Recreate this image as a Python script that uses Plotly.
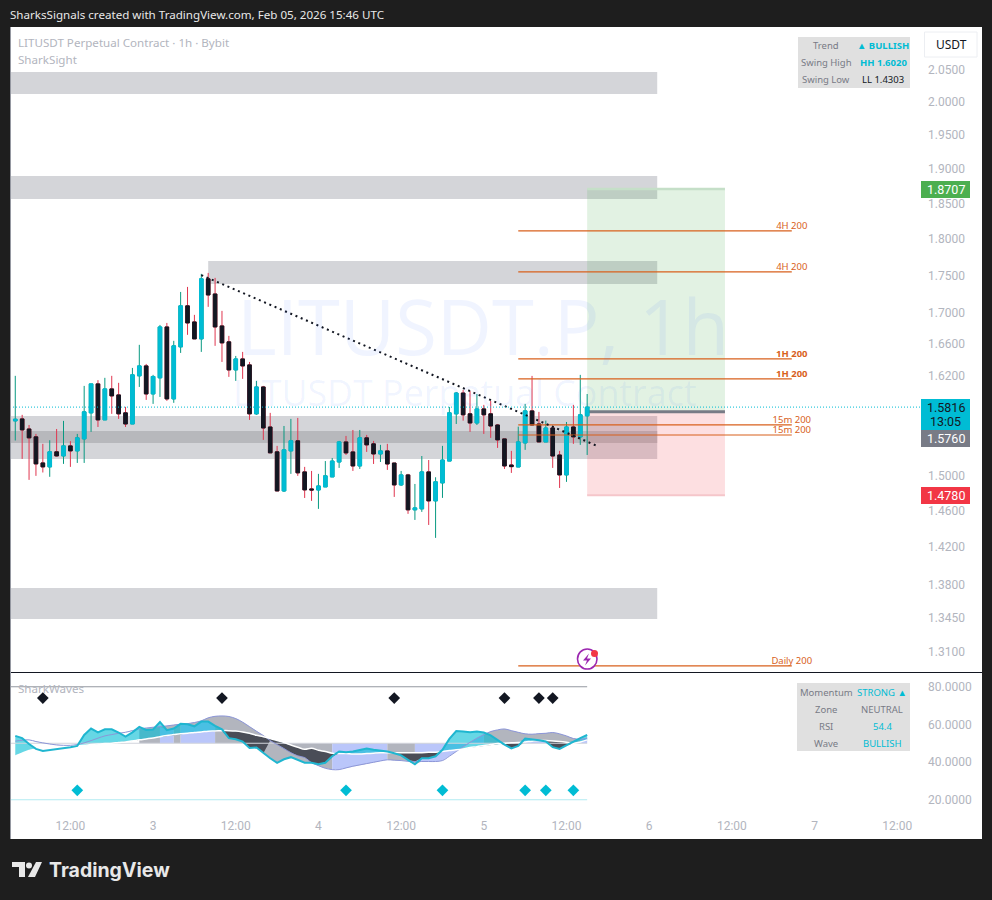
import numpy as np
import pandas as pd
import plotly.graph_objects as go

UI_FONT = "Noto Sans"
AXIS_FONT = "Roboto"

# hourly candles, first one is Feb 2 04:00
times = pd.date_range("2026-02-02 04:00", periods=84, freq="h")

open_ = [1.5649, 1.5673, 1.5552, 1.5458, 1.5151, 1.5105, 1.5281, 1.5233, 1.5351, 1.5292,
         1.5434, 1.5746, 1.6101, 1.5661, 1.6039, 1.5965, 1.5746, 1.5612, 1.6201, 1.6325,
         1.5977, 1.6176, 1.6822, 1.5916, 1.6566, 1.7097, 1.6887, 1.6668, 1.7456, 1.7254,
         1.6835, 1.6630, 1.6275, 1.6413, 1.6338, 1.5734, 1.6063, 1.5576, 1.5281, 1.4828,
         1.5292, 1.5411, 1.5047, 1.4851, 1.4839, 1.4874, 1.4989, 1.5162, 1.5398, 1.5280,
         1.5116, 1.5446, 1.5375, 1.5256, 1.5292, 1.5150, 1.4897, 1.5012, 1.4614, 1.4625,
         1.5047, 1.4715, 1.4920, 1.5173, 1.5734, 1.5988, 1.5734, 1.5624, 1.5794, 1.5734,
         1.5600, 1.5434, 1.5127, 1.5104, 1.5386, 1.5770, 1.5612, 1.5398, 1.5564, 1.5244,
         1.5012, 1.5576, 1.5458, 1.5710]
high = [1.6201, 1.5722, 1.5600, 1.5493, 1.5375, 1.5418, 1.5552, 1.5649, 1.5407, 1.5493,
        1.6076, 1.6101, 1.6147, 1.6176, 1.6201, 1.6114, 1.5819, 1.6300, 1.6592, 1.6350,
        1.6213, 1.6848, 1.6874, 1.6643, 1.7281, 1.7348, 1.6979, 1.7523, 1.7536, 1.7469,
        1.7031, 1.6707, 1.6451, 1.6502, 1.6375, 1.6138, 1.6076, 1.5746, 1.5351, 1.5588,
        1.5673, 1.5685, 1.5105, 1.5058, 1.5024, 1.5173, 1.5209, 1.5410, 1.5469, 1.5540,
        1.5540, 1.5481, 1.5410, 1.5363, 1.5375, 1.5150, 1.5058, 1.5024, 1.4908, 1.5232,
        1.5185, 1.4985, 1.5351, 1.5818, 1.6000, 1.6026, 1.6013, 1.5976, 1.5843, 1.5891,
        1.5612, 1.5434, 1.5292, 1.5580, 1.5855, 1.6200, 1.5758, 1.5652, 1.5588, 1.5292,
        1.5636, 1.5843, 1.6213, 1.5976]
low = [1.5415, 1.5198, 1.4955, 1.5001, 1.5040, 1.4990, 1.5225, 1.5140, 1.5105, 1.5151,
       1.5151, 1.5517, 1.5576, 1.5661, 1.5734, 1.5673, 1.5576, 1.5612, 1.6063, 1.5904,
       1.5855, 1.5940, 1.5892, 1.5868, 1.6489, 1.6720, 1.6668, 1.6502, 1.7084, 1.6579,
       1.6375, 1.6188, 1.6138, 1.6163, 1.5661, 1.5722, 1.5422, 1.5269, 1.4828, 1.4816,
       1.5024, 1.5001, 1.4748, 1.4715, 1.4625, 1.4874, 1.4989, 1.5093, 1.5244, 1.5058,
       1.5081, 1.5280, 1.5139, 1.5162, 1.5070, 1.4760, 1.4885, 1.4569, 1.4501, 1.4591,
       1.4445, 1.4302, 1.4749, 1.5173, 1.5612, 1.5652, 1.5517, 1.5600, 1.5493, 1.5446,
       1.5327, 1.5081, 1.5035, 1.5104, 1.5304, 1.5600, 1.5398, 1.5398, 1.5093, 1.4862,
       1.4932, 1.5375, 1.5363, 1.5244]
close = [1.5669, 1.5541, 1.5446, 1.5140, 1.5105, 1.5281, 1.5233, 1.5351, 1.5292, 1.5446,
         1.5758, 1.6101, 1.5661, 1.6039, 1.5953, 1.5734, 1.5612, 1.6213, 1.6325, 1.5977,
         1.6193, 1.6822, 1.5916, 1.6579, 1.7097, 1.6874, 1.6668, 1.7456, 1.7241, 1.6822,
         1.6617, 1.6275, 1.6413, 1.6325, 1.5734, 1.6063, 1.5564, 1.5269, 1.4828, 1.5304,
         1.5411, 1.5036, 1.4840, 1.4839, 1.4885, 1.5001, 1.5173, 1.5398, 1.5268, 1.5116,
         1.5446, 1.5363, 1.5256, 1.5292, 1.5139, 1.4897, 1.5012, 1.4614, 1.4636, 1.5047,
         1.4715, 1.4932, 1.5185, 1.5746, 1.5988, 1.5722, 1.5624, 1.5794, 1.5722, 1.5588,
         1.5422, 1.5116, 1.5108, 1.5398, 1.5770, 1.5600, 1.5398, 1.5564, 1.5232, 1.5012,
         1.5576, 1.5458, 1.5722, 1.5816]

# SharkWaves pane
wave_fast = [53.9, 52.7, 49.6, 47.0, 45.9, 46.3, 46.8, 47.3, 47.9, 48.6, 54.4, 57.8, 55.8, 57.4,
             57.4, 55.7, 53.5, 55.8, 58.7, 57.1, 57.3, 61.3, 56.9, 57.8, 60.3, 60.1, 59.0, 61.5,
             61.5, 59.2, 57.4, 52.7, 52.1, 50.9, 47.5, 47.7, 44.7, 42.0, 39.6, 41.5, 42.6, 41.0,
             39.7, 39.6, 38.8, 39.6, 43.1, 45.6, 45.2, 45.6, 46.6, 47.2, 46.6, 46.1, 45.6, 44.7,
             43.6, 41.2, 38.8, 42.0, 42.0, 43.1, 46.5, 52.3, 56.5, 56.2, 55.8, 56.2, 55.7, 54.2,
             51.6, 49.3, 47.3, 48.6, 52.5, 52.1, 51.6, 50.9, 47.9, 47.0, 48.9, 51.1, 52.7, 54.4]
wave_slow = [51.1, 51.6, 51.8, 50.9, 50.2, 49.6, 49.1, 48.9, 48.9, 49.3, 50.2, 51.4, 52.7, 53.9,
             54.6, 55.3, 55.8, 56.7, 57.6, 58.1, 58.5, 58.8, 59.2, 59.7, 60.1, 60.4, 61.0, 61.9,
             63.5, 64.3, 64.5, 64.2, 63.1, 61.2, 58.8, 56.4, 54.1, 51.4, 49.3, 47.2, 45.0, 43.3,
             42.4, 39.7, 38.1, 36.7, 36.0, 36.0, 36.9, 37.8, 38.5, 39.2, 39.9, 40.6, 41.2, 41.0,
             40.8, 40.4, 40.3, 40.3, 40.3, 40.3, 40.8, 43.1, 45.6, 48.1, 50.5, 52.7, 54.6, 56.2,
             57.1, 57.6, 56.7, 55.8, 55.0, 54.8, 55.1, 55.3, 55.7, 55.0, 53.9, 52.5, 52.1, 52.7]
wave_signal = [43.3, 44.7, 46.1, 47.0, 46.5, 46.8, 47.3, 47.7, 48.1, 48.6, 48.9, 49.3, 49.6, 49.8,
               50.0, 50.4, 50.7, 51.2, 51.8, 52.3, 52.8, 53.5, 54.1, 54.6, 55.1, 55.3, 55.7, 56.0,
               56.4, 56.5, 56.7, 56.7, 56.5, 56.0, 55.3, 54.2, 53.5, 52.5, 51.4, 50.4, 49.1, 47.9,
               46.8, 47.3, 46.3, 45.6, 44.7, 44.5, 44.5, 44.3, 44.3, 44.5, 44.7, 44.9, 45.0, 45.0,
               45.0, 45.0, 45.0, 45.0, 45.2, 45.2, 45.6, 46.1, 46.5, 47.0, 47.7, 48.2, 48.8, 49.3,
               49.8, 50.0, 50.2, 50.4, 50.7, 51.1, 51.4, 51.4, 51.2, 50.9, 50.5, 50.0, 50.7, 51.8]
state_starts = [0, 18, 21, 23, 24, 29, 46, 54, 58, 68, 73, 78, 82]
state_names = ["none", "grey", "blue", "grey", "blue", "grey", "blue", "grey", "blue",
               "grey", "blue", "grey", "blue"]
sell_idx = [4, 30, 55, 71, 76, 78]
buy_idx = [9, 48, 62, 74, 77, 81]
sell_level = 74
buy_level = 25

x_range = ["2026-02-02 03:14", "2026-02-07 16:02"]

zone_tops = [2.0467, 1.8893, 1.7698, 1.5708, 1.3761]
zone_bottoms = [2.0123, 1.8562, 1.7387, 1.5197, 1.3437]
zone_starts = [x_range[0], x_range[0], "2026-02-03 08:00", x_range[0], x_range[0]]
inner_zone = [1.5529, 1.5386]
zone_end = "2026-02-06 01:10"

level_prices = [1.8111, 1.7549, 1.6413, 1.6162, 1.5600, 1.5480, 1.2960]
level_names = ["4H 200", "4H 200", "<b>1H 200</b>", "<b>1H 200</b>", "15m 200", "15m 200", "Daily 200"]
level_start = "2026-02-05 05:00"
level_end = "2026-02-06 20:42"

trend_x = ["2026-02-03 07:00", "2026-02-05 16:27"]
trend_y = [1.7507, 1.5350]

box_start = "2026-02-05 15:00"
box_end = "2026-02-06 11:00"
target_price, entry_price, stop_price = 1.8707, 1.5760, 1.4780
last_price = 1.5816

price_ticks = [2.05, 2.0, 1.95, 1.9, 1.85, 1.8, 1.75, 1.7, 1.66, 1.62, 1.5, 1.46, 1.42, 1.38, 1.345, 1.31]
wave_ticks = [80, 60, 40, 20]
time_ticks = ["2026-02-02 12:00", "2026-02-03", "2026-02-03 12:00", "2026-02-04", "2026-02-04 12:00",
              "2026-02-05", "2026-02-05 12:00", "2026-02-06", "2026-02-06 12:00", "2026-02-07", "2026-02-07 12:00"]
time_labels = ["12:00", "3", "12:00", "4", "12:00", "5", "12:00", "6", "12:00", "7", "12:00"]

TEAL = "#00bcd4"
BLACK = "#131722"
GREY = "#b2b5be"
ORANGE = "#d8611c"


# screen pixels to paper coords, only for the TradingView furniture
def px(x):
    return (x - 10) / 915


def py(y):
    return (815 - y) / 788


def band(upper, lower, color, xs=times):
    xs = list(xs)
    return go.Scatter(x=xs + xs[::-1], y=list(upper) + list(lower)[::-1], mode="lines", fill="toself",
                      fillcolor=color, line=dict(width=0), xaxis="x2", yaxis="y2", hoverinfo="skip")


fig = go.Figure()

# wicks first, then bodies painted on top so outline colour doesn't show
fig.add_trace(go.Candlestick(
    x=times, open=open_, high=high, low=low, close=close,
    increasing=dict(line=dict(color="#089981", width=1), fillcolor="#089981"),
    decreasing=dict(line=dict(color="#e0364f", width=1), fillcolor="#e0364f"),
    whiskerwidth=0, hoverinfo="skip"))
body_hi = np.maximum(open_, close)
body_lo = np.minimum(open_, close)
fig.add_trace(go.Candlestick(
    x=times, open=open_, high=body_hi, low=body_lo, close=close,
    increasing=dict(line=dict(color=TEAL, width=1), fillcolor=TEAL),
    decreasing=dict(line=dict(color=BLACK, width=1), fillcolor=BLACK),
    whiskerwidth=0, hoverinfo="skip"))

# 200 ma levels
for p in level_prices:
    fig.add_trace(go.Scatter(x=[level_start, level_end], y=[p, p], mode="lines",
                             line=dict(color=ORANGE, width=1.2), hoverinfo="skip"))
fig.add_trace(go.Scatter(x=[level_end] * len(level_prices), y=level_prices, mode="text", text=level_names,
                         textposition="top center", textfont=dict(family=UI_FONT, size=9.5, color=ORANGE),
                         hoverinfo="skip"))

fig.add_trace(go.Scatter(x=trend_x, y=trend_y, mode="lines",
                         line=dict(color=BLACK, width=2, dash="2px,3.7px"), hoverinfo="skip"))
fig.add_trace(go.Scatter(x=x_range, y=[last_price, last_price], mode="lines",
                         line=dict(color=TEAL, width=1, dash="1px,2px"), hoverinfo="skip"))

# SharkWaves pane
fast = np.array(wave_fast)
slow = np.array(wave_slow)
signal = np.array(wave_signal)
mid = np.full(len(times), 50.0)
state_colors = {"grey": "#b2b5be", "blue": "#bac6fa"}
active = np.arange(len(times)) >= state_starts[1]
for k, start in enumerate(state_starts):
    if state_names[k] == "none":
        continue
    stop = state_starts[k + 1] + 1 if k + 1 < len(state_starts) else len(times)
    fig.add_trace(band(np.maximum(slow, mid)[start:stop], np.minimum(slow, mid)[start:stop],
                       state_colors[state_names[k]], times[start:stop]))
fig.add_trace(band(slow, np.where(active, np.minimum(fast, slow), slow), "#b2b5be"))
dark_lo = np.where(fast < signal, np.where(slow < signal, np.maximum(fast, slow), fast), signal)
fig.add_trace(band(signal, dark_lo, "#4a4d57"))
fig.add_trace(band(np.maximum(fast, signal), signal, "rgba(0,188,212,0.6)"))

for level, col in [(80, "#9598a1"), (50, "#d1d4dc"), (20, "#b2ebf2")]:
    fig.add_trace(go.Scatter(x=[x_range[0], times[-1]], y=[level, level], mode="lines", xaxis="x2", yaxis="y2",
                             line=dict(color=col, width=1), hoverinfo="skip"))
fig.add_trace(go.Scatter(x=times, y=wave_slow, mode="lines", xaxis="x2", yaxis="y2",
                         line=dict(color="#8c96d8", width=1, shape="spline"), hoverinfo="skip"))
fig.add_trace(go.Scatter(x=times, y=wave_signal, mode="lines", xaxis="x2", yaxis="y2",
                         line=dict(color="#ffffff", width=1.5, shape="spline"), hoverinfo="skip"))
fig.add_trace(go.Scatter(x=times, y=wave_fast, mode="lines", xaxis="x2", yaxis="y2",
                         line=dict(color="#1fb6d0", width=2), hoverinfo="skip"))
fig.add_trace(go.Scatter(x=times[sell_idx], y=[sell_level] * len(sell_idx), mode="markers", xaxis="x2", yaxis="y2",
                         marker=dict(symbol="diamond", size=9, color=BLACK), hoverinfo="skip"))
fig.add_trace(go.Scatter(x=times[buy_idx], y=[buy_level] * len(buy_idx), mode="markers", xaxis="x2", yaxis="y2",
                         marker=dict(symbol="diamond", size=9, color=TEAL), hoverinfo="skip"))

# zones and the long position box
shapes = [dict(type="rect", xref="paper", yref="paper", x0=px(10), x1=px(982), y0=py(27), y1=py(839),
               fillcolor="white", line_width=0, layer="below")]
for top, bot, start in zip(zone_tops, zone_bottoms, zone_starts):
    shapes.append(dict(type="rect", xref="x", yref="y", x0=start, x1=zone_end, y0=bot, y1=top,
                       fillcolor="#d4d5d9", line_width=0, layer="below"))
shapes.append(dict(type="rect", xref="x", yref="y", x0=zone_starts[3], x1=zone_end, y0=inner_zone[1], y1=inner_zone[0],
                   fillcolor="#b7b8bc", line_width=0, layer="below"))
shapes.append(dict(type="rect", xref="x", yref="y", x0=box_start, x1=box_end, y0=entry_price, y1=target_price,
                   fillcolor="rgba(76,175,80,0.16)", line=dict(width=0), layer="below"))
shapes.append(dict(type="rect", xref="x", yref="y", x0=box_start, x1=box_end, y0=stop_price, y1=entry_price,
                   fillcolor="rgba(242,54,69,0.16)", line=dict(width=0), layer="below"))
for price, col, w in [(target_price, "#c5dfc8", 2.5), (stop_price, "#f5c6ca", 2), (entry_price, "#787b86", 3)]:
    shapes.append(dict(type="line", xref="x", yref="y", x0=box_start, x1=box_end, y0=price, y1=price,
                       line=dict(color=col, width=w), layer="below"))

# pane divider, panel edge, tables, price tags
shapes.append(dict(type="line", xref="paper", yref="paper", x0=px(10), x1=px(982), y0=py(672.5), y1=py(672.5),
                   line=dict(color=BLACK, width=1)))
shapes.append(dict(type="line", xref="paper", yref="paper", x0=px(10.5), x1=px(10.5), y0=py(27), y1=py(839),
                   line=dict(color="#9598a1", width=1)))


def rect_px(x0, y0, x1, y1, color):
    shapes.append(dict(type="rect", xref="paper", yref="paper", x0=px(x0), x1=px(x1), y0=py(y0), y1=py(y1),
                       fillcolor=color, line_width=0))


rect_px(798, 37, 910, 88, "#e0e0e0")
rect_px(797, 683, 910, 751, "#e0e0e0")
rect_px(921, 181, 970, 198, "#4caf50")
rect_px(921, 399, 970, 430, TEAL)
rect_px(921, 430, 970, 447, "#787b86")
rect_px(921, 487, 970, 504, "#f23645")
shapes.append(dict(type="rect", xref="paper", yref="paper", x0=px(924.5), x1=px(977), y0=py(32), y1=py(57),
                   fillcolor="white", line=dict(color="#eceef2", width=1)))

# TradingView mark
for path_px in ([(12, 862), (25, 862), (25, 877), (19, 877), (19, 867), (12, 867)],
                [(36, 862), (42, 862), (35, 877), (28, 877)]):
    d = "M " + " L ".join(f"{px(a):.5f},{py(b):.5f}" for a, b in path_px) + " Z"
    shapes.append(dict(type="path", xref="paper", yref="paper", path=d, fillcolor="#e8e8e8", line_width=0))
shapes.append(dict(type="circle", xref="paper", yref="paper", x0=px(26), x1=px(32), y0=py(862.5), y1=py(868.5),
                   fillcolor="#e8e8e8", line_width=0))
# alert icon
shapes.append(dict(type="circle", xref="paper", yref="paper", x0=px(577.5), x1=px(597), y0=py(649), y1=py(669),
                   fillcolor="white", line=dict(color="#9c27b0", width=1.6)))
shapes.append(dict(type="circle", xref="paper", yref="paper", x0=px(591), x1=px(598), y0=py(650), y1=py(657),
                   fillcolor="#f23645", line_width=0))
d = "M " + " L ".join(f"{px(a):.5f},{py(b):.5f}" for a, b in
                      [(589, 653.5), (583, 660.5), (587, 660.5), (585, 665.5), (591, 658.5), (587, 658.5)]) + " Z"
shapes.append(dict(type="path", xref="paper", yref="paper", path=d, fillcolor="#9c27b0", line_width=0))

annotations = []


def label(x, y, text, size=11, color=GREY, anchor="center", family=UI_FONT):
    annotations.append(dict(xref="paper", yref="paper", x=px(x), y=py(y), text=text, showarrow=False,
                            xanchor=anchor, yanchor="middle", align=anchor, borderpad=0, borderwidth=0,
                            font=dict(family=family, size=size, color=color)))


label(10, 14, "SharksSignals created with TradingView.com, Feb 05, 2026 15:46 UTC", 11.6, "#e8e8e8", "left")
label(18, 42, "LITUSDT Perpetual Contract · 1h · Bybit", 11.6, GREY, "left")
label(18, 59, "SharkSight", 11.6, GREY, "left")
label(18, 688, "SharkWaves", 11.6, GREY, "left")
label(483, 325, "LITUSDT.P, 1h", 76, "rgba(41,98,255,0.07)", family="Open Sans")
label(465, 392, "LITUSDT Perpetual Contract", 35.8, "rgba(41,98,255,0.07)", family="Open Sans")
label(951, 44.5, "USDT", 12, BLACK)

for y, left, right, col in [(45.5, "Trend", "<b>▲ BULLISH</b>", TEAL),
                            (62.5, "Swing High", "<b>HH 1.6020</b>", TEAL),
                            (79.5, "Swing Low", "LL 1.4303", BLACK)]:
    label(826, y, left, 9.5, "#787b86")
    label(883, y, right, 9.5, col)
for y, left, right, col in [(692, "Momentum", "STRONG ▲", TEAL), (709, "Zone", "NEUTRAL", "#787b86"),
                            (726, "RSI", "54.4", TEAL), (743, "Wave", "BULLISH", TEAL)]:
    label(826, y, left, 9.5, "#787b86")
    label(882, y, right, 9.5, col)

label(945.5, 189.5, "1.8707", 12.5, "white", family=AXIS_FONT)
label(945.5, 407, "1.5816", 12.5, BLACK, family=AXIS_FONT)
label(945.5, 421, "13:05", 12.5, BLACK, family=AXIS_FONT)
label(945.5, 438.5, "1.5760", 12.5, "white", family=AXIS_FONT)
label(945.5, 495.5, "1.4780", 12.5, "white", family=AXIS_FONT)
label(49, 870, "<b>TradingView</b>", 19.5, "#e8e8e8", "left", "Inter")

axis_common = dict(showgrid=False, zeroline=False, showline=False, ticks="", fixedrange=True)
tick_font = dict(family=AXIS_FONT, color=GREY, size=12)
fig.update_layout(
    width=992, height=900,
    margin=dict(l=10, r=67, t=27, b=85),
    paper_bgcolor="#1e1e1e", plot_bgcolor="white",
    showlegend=False, shapes=shapes, annotations=annotations, boxgap=0.25,
    font=dict(family=UI_FONT, size=12, color=GREY),
    xaxis=dict(type="date", domain=[0, 1], range=x_range, anchor="y", showticklabels=False,
               rangeslider=dict(visible=False), **axis_common),
    xaxis2=dict(type="date", domain=[0, 1], range=x_range, anchor="y2", matches="x",
                tickmode="array", tickvals=time_ticks, ticktext=time_labels,
                tickfont=tick_font, ticklabelstandoff=2, **axis_common),
    yaxis=dict(type="log", domain=[py(672), 1], range=[np.log10(1.29), np.log10(2.1188)], side="right", anchor="x",
               tickmode="array", tickvals=price_ticks, ticktext=[f"{t:.4f}" for t in price_ticks],
               tickfont=tick_font, ticklabelstandoff=2, **axis_common),
    yaxis2=dict(domain=[0, py(673)], range=[11.9, 87.3], side="right", anchor="x2",
                tickmode="array", tickvals=wave_ticks, ticktext=[f"{t:.4f}" for t in wave_ticks],
                tickfont=tick_font, ticklabelstandoff=2, **axis_common),
)

fig.write_html("out.html", config=dict(displayModeBar=False),
               post_script="document.body.style.margin='0';document.body.style.overflow='hidden';")
